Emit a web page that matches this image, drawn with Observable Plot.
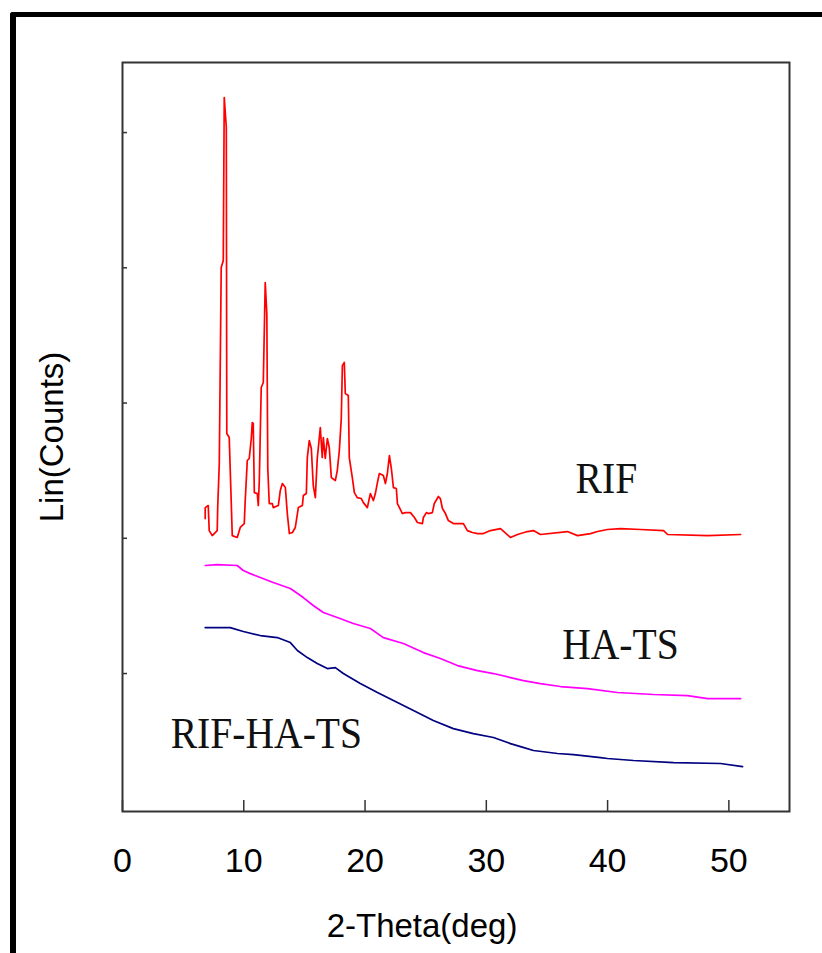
<!DOCTYPE html>
<html><head><meta charset="utf-8">
<script src="https://cdn.jsdelivr.net/npm/d3@7"></script>
<script src="https://cdn.jsdelivr.net/npm/@observablehq/plot@0.6"></script>
<style>
html,body{margin:0;padding:0;background:#fff;}
#wrap{position:relative;width:822px;height:953px;overflow:hidden;}
#border{position:absolute;left:10px;top:12px;width:900px;height:1000px;border-left:6px solid #000;border-top:5px solid #000;border-top-left-radius:3px;}
#chart{position:absolute;left:0;top:0;}
</style></head><body>
<div id="wrap"><div id="border"></div><div id="chart"></div></div>
<script>
// 2-Theta (deg) and Lin(Counts)
const rifTheta = [6.82,6.82,7.07,7.15,7.40,7.81,7.85,7.98,8.14,8.31,8.39,8.56,8.60,8.80,8.97,9.05,9.46,9.71,10.04,10.12,10.29,10.45,10.62,10.70,10.78,10.87,11.11,11.20,11.28,11.44,11.61,11.77,11.90,11.98,12.10,12.35,12.43,12.85,13.01,13.18,13.43,13.59,13.76,14.01,14.25,14.50,14.83,14.91,15.16,15.24,15.40,15.57,15.73,15.90,16.06,16.31,16.47,16.56,16.72,16.89,17.05,17.22,17.55,17.71,17.88,18.04,18.13,18.29,18.37,18.62,18.70,18.95,19.12,19.36,19.69,19.86,20.19,20.44,20.69,20.85,21.02,21.18,21.51,21.68,21.84,22.01,22.17,22.34,22.58,22.67,23.08,23.33,23.74,24.07,24.32,24.73,24.81,25.06,25.22,25.55,25.71,26.05,26.21,26.38,26.63,26.87,27.28,28.11,28.44,28.85,29.27,29.76,30.34,31.17,31.99,32.57,33.39,33.89,34.46,36.69,37.52,38.59,39.17,39.99,41.07,42.73,44.62,44.95,48.25,50.97];
const rifCounts = [2146,2227,2242,2057,2020,2057,2227,2553,4002,4054,5259,5037,2775,2745,2257,2020,2006,2080,2109,2279,2575,2590,2738,2856,2849,2338,2331,2242,2427,3115,3152,3891,3662,2516,2257,2257,2227,2242,2353,2405,2375,2183,2035,2043,2080,2227,2242,2316,2331,2597,2723,2664,2390,2301,2590,2819,2597,2745,2590,2738,2671,2449,2427,2501,2649,2885,3277,3300,3070,3056,2597,2449,2338,2301,2294,2264,2227,2331,2279,2331,2412,2479,2464,2405,2479,2612,2516,2375,2368,2257,2183,2190,2190,2154,2117,2109,2154,2190,2183,2190,2257,2309,2294,2220,2183,2131,2109,2109,2057,2043,2035,2035,2057,2072,2006,2028,2050,2057,2028,2050,2020,2035,2050,2065,2072,2065,2057,2028,2020,2028];

const haTheta = [6.82,7.81,9.46,9.96,10.54,11.36,12.43,13.84,14.91,15.73,16.56,17.71,19.03,20.44,21.51,23.16,24.81,26.21,27.62,29.27,30.59,31.99,33.06,34.46,36.11,38.34,40.81,43.78,46.59,48.25,50.97];
const haCounts = [1799,1806,1799,1762,1739,1710,1673,1629,1562,1503,1451,1414,1370,1333,1266,1222,1155,1111,1059,1022,1000,970,948,926,904,889,860,845,837,815,815];

const rhTheta = [6.82,8.88,9.96,11.36,12.76,13.84,14.42,15.24,16.06,16.89,17.55,18.21,19.61,21.02,22.34,23.99,25.63,27.28,28.93,30.59,31.99,32.82,33.89,35.87,37.19,39.42,39.99,42.14,45.44,49.31,51.13];
const rhCounts = [1340,1340,1311,1281,1266,1229,1170,1118,1074,1037,1044,1000,926,860,800,726,653,593,556,527,482,460,431,409,401,379,372,357,342,335,312];

const seriesNames = ["RIF","HA-TS","RIF-HA-TS"];
const seriesColors = ["#ff0000","#ff00ff","#000080"];
const xTicks = [0,10,20,30,40,50];
const yTicks = [1000,2000,3000,4000,5000];
// label anchor positions in data units
const labelTheta = [39.9, 41.06, 11.86];
const labelCounts = [2442, 1214, 556];

const rows = [];
[[rifTheta,rifCounts],[haTheta,haCounts],[rhTheta,rhCounts]].forEach(([t,c],i)=>{
  t.forEach((v,j)=>rows.push({series:seriesNames[i], theta:v, counts:c[j]}));
});
const labels = seriesNames.map((s,i)=>({series:s, theta:labelTheta[i], counts:labelCounts[i]}));

const plot = Plot.plot({
  width: 822,
  height: 953,
  marginLeft: 122,
  marginRight: 33,
  marginTop: 62,
  marginBottom: 142,
  style: {fontFamily: "'Liberation Sans', Arial, sans-serif", fontSize: "34px", color: "#000", background: "transparent"},
  x: {domain: [0, 55], axis: null, label: null},
  y: {domain: [-20, 5518], axis: null, label: null},
  color: {domain: seriesNames, range: seriesColors},
  marks: [
    Plot.line(rows, {x: "theta", y: "counts", z: "series", stroke: "series", strokeWidth: 1.7}),
    Plot.frame({stroke: "#333", strokeWidth: 2}),
    Plot.axisX({ticks: xTicks, tickSize: 11, dy: -11, anchor: "bottom", stroke: "#333", strokeWidth: 1.5, fill: "none", label: null}),
    Plot.axisX({ticks: xTicks, tickSize: 0, tickPadding: 36, anchor: "bottom", fill: "#000", fontSize: 34, label: null}),
    Plot.axisY({ticks: yTicks, tickSize: 5, dx: 5, anchor: "left", stroke: "#333", strokeWidth: 1.5, fill: "none", label: null}),
    Plot.text(["2-Theta(deg)"], {frameAnchor: "bottom", dx: -34, dy: 115, lineAnchor: "middle", fontSize: 33, fill: "#000"}),
    Plot.text(["Lin(Counts)"], {frameAnchor: "left", dx: -70, rotate: -90, textAnchor: "middle", lineAnchor: "middle", fontSize: 33, fill: "#000"}),
    Plot.text(labels, {x: "theta", y: "counts", text: "series", lineAnchor: "middle", fontSize: 45, fill: "#111", fontFamily: "'Liberation Serif', 'Times New Roman', serif", className: "serif-label"})
  ]
});
document.getElementById("chart").appendChild(plot);
d3.select(plot).selectAll(".serif-label text").each(function(){
  const w = this.getComputedTextLength();
  this.setAttribute("textLength", (w*0.88).toFixed(1));
  this.setAttribute("lengthAdjust", "spacingAndGlyphs");
});
</script>
</body></html>
